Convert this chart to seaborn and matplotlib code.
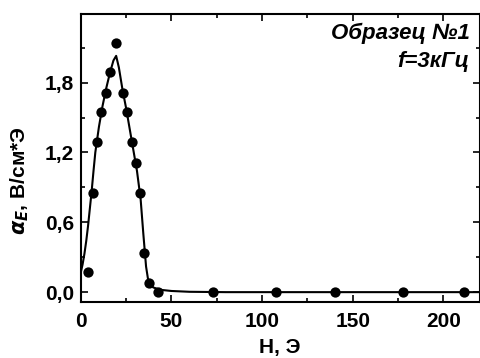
import matplotlib
matplotlib.use("Agg")
import matplotlib.pyplot as plt
import matplotlib.ticker as mticker
import seaborn as sns

# measured points
field = [4.0, 6.8, 9.2, 11.4, 13.8, 16.2, 19.3, 23.4, 25.4, 28.0, 30.4, 32.6,
         35.0, 37.6, 42.4, 72.8, 107.5, 140.3, 177.5, 211.6]
alpha_e = [0.17, 0.855, 1.29, 1.545, 1.71, 1.89, 2.14, 1.71, 1.545, 1.29, 1.11, 0.855,
           0.34, 0.08, 0.0, 0.0, 0.0, 0.0, 0.0, 0.0]

# fitted curve
fit_h = [0, 1, 2, 3, 4, 5, 6, 7, 8, 10, 12, 14, 16, 18, 19.5, 21, 23, 25, 27, 29,
         31, 33, 34.5, 36, 37, 38, 40, 44, 50, 60, 80, 220]
fit_a = [0.17, 0.24, 0.33, 0.44, 0.57, 0.72, 0.87, 1.04, 1.20, 1.42, 1.60, 1.75,
         1.88, 1.99, 2.03, 1.93, 1.74, 1.58, 1.40, 1.22, 1.04, 0.80, 0.50, 0.22,
         0.12, 0.07, 0.04, 0.02, 0.01, 0.003, 0.0, 0.0]

sns.set_style("ticks")
plt.rcParams['font.family'] = ['Liberation Sans', 'DejaVu Sans']
plt.rcParams['font.weight'] = 'bold'
plt.rcParams['mathtext.fontset'] = 'dejavusans'
plt.rcParams['text.color'] = 'black'
plt.rcParams['axes.labelcolor'] = 'black'
plt.rcParams['xtick.color'] = 'black'
plt.rcParams['ytick.color'] = 'black'

fig = plt.figure(figsize=(4.81, 3.58), dpi=100)
ax = fig.add_axes([0.168, 0.156, 0.829, 0.805])

sns.lineplot(x=fit_h, y=fit_a, ax=ax, color="black", linewidth=1.5, sort=False)
sns.scatterplot(x=field, y=alpha_e, ax=ax, color="black", s=55, linewidth=0, zorder=3)

ax.set_xlim(0, 220)
ax.set_ylim(-0.086, 2.39)
ax.set_xticks([0, 50, 100, 150, 200])
ax.set_yticks([0, 0.6, 1.2, 1.8])
ax.xaxis.set_minor_locator(mticker.MultipleLocator(25))
ax.yaxis.set_minor_locator(mticker.MultipleLocator(0.3))
ax.yaxis.set_major_formatter(mticker.FuncFormatter(lambda v, p: f"{v:.1f}".replace(".", ",")))
ax.tick_params(which="both", direction="in", top=True, right=True, width=1.2)
ax.tick_params(which="major", length=5, labelsize=15, pad=5)
ax.tick_params(axis="x", which="major", pad=7)
ax.tick_params(which="minor", length=3)
for sp in ax.spines.values():
    sp.set_linewidth(1.5)
    sp.set_color("black")

ax.set_xlabel("H, Э", fontsize=15, fontweight="bold", labelpad=5)
ax.set_ylabel(r"$\alpha_E$, В/см*Э", fontsize=15, fontweight="bold")
ax.yaxis.set_label_coords(-0.125, 0.42)

ax.text(0.975, 0.913, "Образец №1", transform=ax.transAxes, ha="right", va="baseline",
        fontsize=16, fontweight="bold", style="italic")
ax.text(0.975, 0.816, "f=3кГц", transform=ax.transAxes, ha="right", va="baseline",
        fontsize=16, fontweight="bold", style="italic")

fig.savefig("out.png", dpi=100)
